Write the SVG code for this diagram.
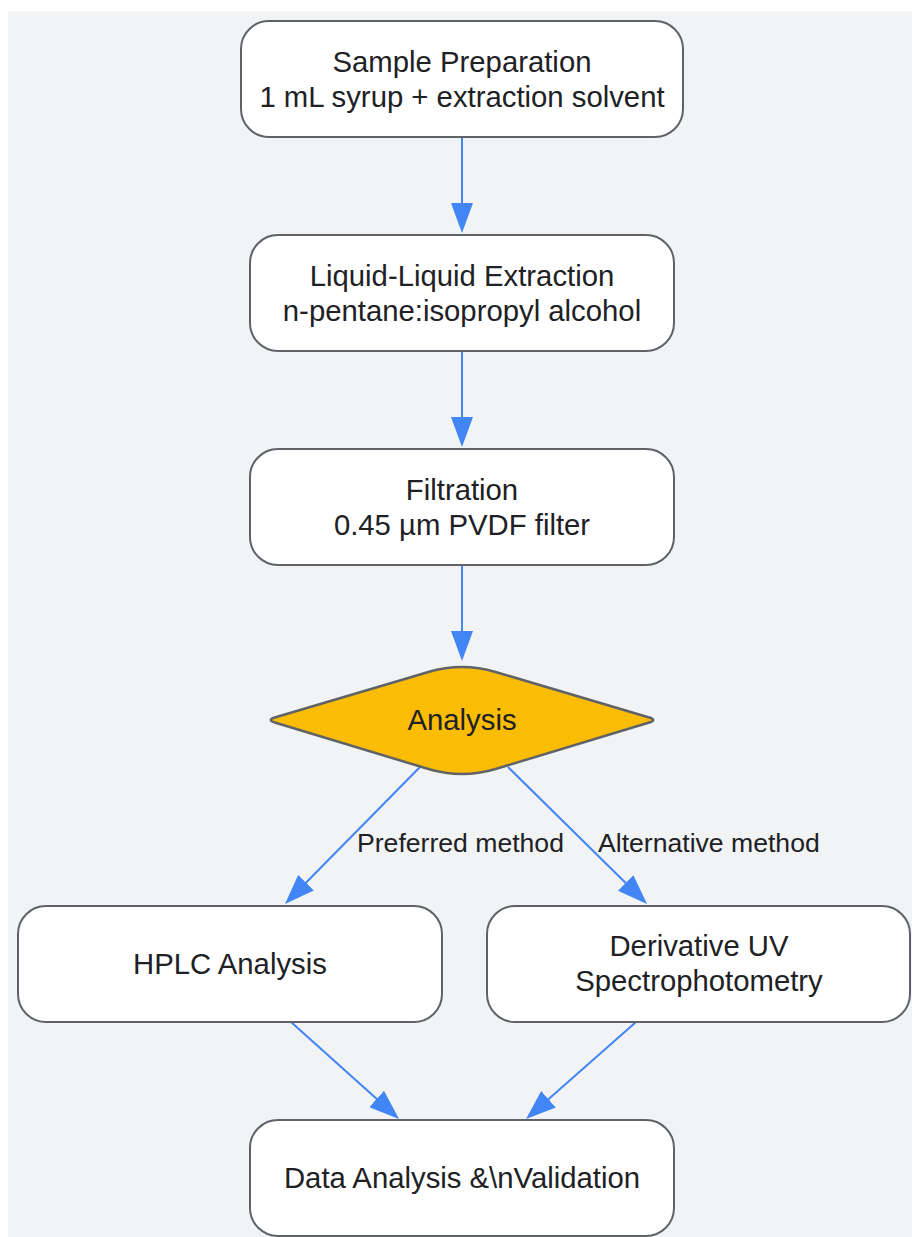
<svg xmlns="http://www.w3.org/2000/svg" width="912" height="1237" viewBox="0 0 912 1237">
  <style>
    .node rect { fill: #ffffff; stroke: #5f6368; stroke-width: 2; }
    .dec { fill: #fbbc04; stroke: #5f6368; stroke-width: 2.5; }
    .lbl { font-family: "Liberation Sans", Arial, sans-serif; font-size: 29.3px; fill: #202124; text-anchor: middle; }
    .elbl { font-family: "Liberation Sans", Arial, sans-serif; font-size: 26.6px; fill: #202124; }
    .edge { fill: none; stroke: #4285f4; stroke-width: 2; }
  </style>
  <defs>
    <marker id="arrow" markerUnits="userSpaceOnUse" markerWidth="30" markerHeight="22" refX="10" refY="11" orient="auto" viewBox="0 0 30 22">
      <path d="M0,0 L30,11 L0,22 z" fill="#4285f4"/>
    </marker>
  </defs>
  <rect x="0" y="0" width="912" height="1237" fill="#ffffff"/>
  <rect x="8" y="11" width="904" height="1226" fill="#f1f3f4"/>

  <g id="connectors">
    <line class="edge" x1="462" y1="137" x2="462" y2="213" marker-end="url(#arrow)"/>
    <line class="edge" x1="462" y1="351" x2="462" y2="427" marker-end="url(#arrow)"/>
    <line class="edge" x1="462" y1="565" x2="462" y2="641" marker-end="url(#arrow)"/>
    <line class="edge" x1="420" y1="767" x2="299" y2="889.8" marker-end="url(#arrow)"/>
    <line class="edge" x1="508" y1="767" x2="632.8" y2="890" marker-end="url(#arrow)"/>
    <line class="edge" x1="291" y1="1022" x2="384.1" y2="1105.6" marker-end="url(#arrow)"/>
    <line class="edge" x1="636" y1="1022" x2="541" y2="1105.8" marker-end="url(#arrow)"/>
    <text class="elbl" x="357" y="852">Preferred method</text>
    <text class="elbl" x="598" y="852">Alternative method</text>
  </g>

  <g id="sample-prep" class="node">
    <rect x="241" y="21" width="442" height="116" rx="28" ry="28"/>
    <text class="lbl" x="462" y="72">Sample Preparation</text>
    <text class="lbl" x="462" y="107">1 mL syrup + extraction solvent</text>
  </g>
  <g id="lle" class="node">
    <rect x="250" y="235" width="424" height="116" rx="28" ry="28"/>
    <text class="lbl" x="462" y="286">Liquid-Liquid Extraction</text>
    <text class="lbl" x="462" y="321">n-pentane:isopropyl alcohol</text>
  </g>
  <g id="filtration" class="node">
    <rect x="250" y="449" width="424" height="116" rx="28" ry="28"/>
    <text class="lbl" x="462" y="500">Filtration</text>
    <text class="lbl" x="462" y="535">0.45 µm PVDF filter</text>
  </g>
  <g id="analysis">
    <path class="dec" d="M428.4,672 Q462,662 495.6,672 L648.4,717.2 Q658,720 648.4,722.8 L495.6,769 Q462,779 428.4,769 L275.6,722.8 Q266,720 275.6,717.2 Z"/>
    <text class="lbl" x="462" y="730">Analysis</text>
  </g>
  <g id="hplc" class="node">
    <rect x="18" y="906" width="424" height="116" rx="28" ry="28"/>
    <text class="lbl" x="230" y="974">HPLC Analysis</text>
  </g>
  <g id="uv" class="node">
    <rect x="487" y="906" width="423" height="116" rx="28" ry="28"/>
    <text class="lbl" x="699" y="956">Derivative UV</text>
    <text class="lbl" x="699" y="991">Spectrophotometry</text>
  </g>
  <g id="data" class="node">
    <rect x="250" y="1120" width="424" height="116" rx="28" ry="28"/>
    <text class="lbl" x="462" y="1188">Data Analysis &amp;\nValidation</text>
  </g>
</svg>
